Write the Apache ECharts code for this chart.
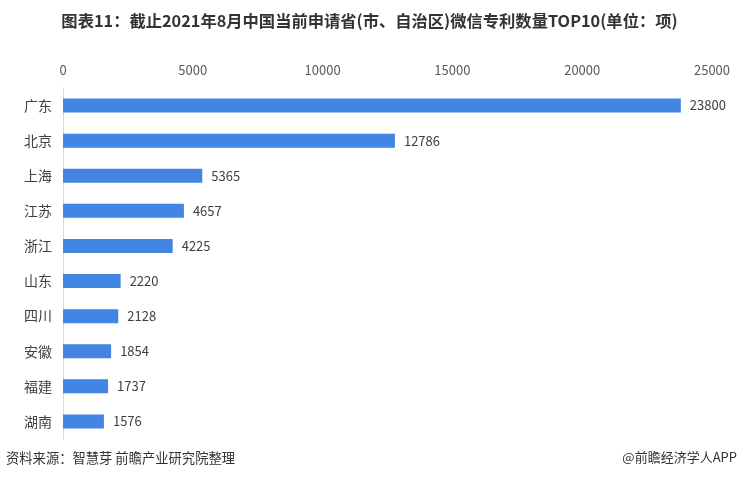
<!DOCTYPE html>
<html>
<head>
<meta charset="utf-8">
<script src="https://cdn.jsdelivr.net/npm/echarts@6/dist/echarts.min.js"></script>
<style>
html,body{margin:0;padding:0;background:#fff;}
#c{width:739px;height:479px;}
</style>
</head>
<body>
<div id="c"></div>
<script>
const categories = ['广东','北京','上海','江苏','浙江','山东','四川','安徽','福建','湖南'];
const values = [23800,12786,5365,4657,4225,2220,2128,1854,1737,1576];
const titleText = '图表11：截止2021年8月中国当前申请省(市、自治区)微信专利数量TOP10(单位：项)';
const sourceText = '资料来源：智慧芽 前瞻产业研究院整理';
const brandText = '@前瞻经济学人APP';

const chart = echarts.init(document.getElementById('c'));
chart.setOption({
  animation: false,
  backgroundColor: '#fff',
  title: {
    text: titleText,
    left: 'center',
    top: 8,
    textStyle: {fontFamily: 'Noto Sans CJK SC', fontSize: 16.3, fontWeight: 'bold', color: '#333'}
  },
  graphic: [
    {type: 'text', left: 6, top: 451, style: {text: sourceText, font: '13.3px "Noto Sans CJK SC"', fill: '#333'}},
    {type: 'text', right: 2, top: 451, style: {text: brandText, font: '13px "Noto Sans CJK SC"', fill: '#333'}}
  ],
  grid: {left: 63, right: 27, top: 88, bottom: 40, containLabel: false},
  xAxis: {
    type: 'value',
    position: 'top',
    min: 0, max: 25000, interval: 5000,
    axisLine: {show: false},
    axisTick: {show: false},
    splitLine: {show: false},
    axisLabel: {color: '#595959', fontSize: 13, margin: 11, fontFamily: 'Noto Sans CJK SC', formatter: v => String(v)}
  },
  yAxis: {
    type: 'category',
    data: categories,
    inverse: true,
    axisLine: {show: true, lineStyle: {color: '#d9d9d9'}},
    axisTick: {show: false},
    axisLabel: {color: '#404040', fontSize: 14, margin: 11, fontFamily: 'Noto Sans CJK SC'}
  },
  series: [{
    type: 'bar',
    data: values,
    barWidth: 14,
    itemStyle: {color: '#4285e3'},
    label: {show: true, position: 'right', distance: 9, color: '#404040', fontSize: 13, fontFamily: 'Noto Sans CJK SC'}
  }]
});
</script>
</body>
</html>
